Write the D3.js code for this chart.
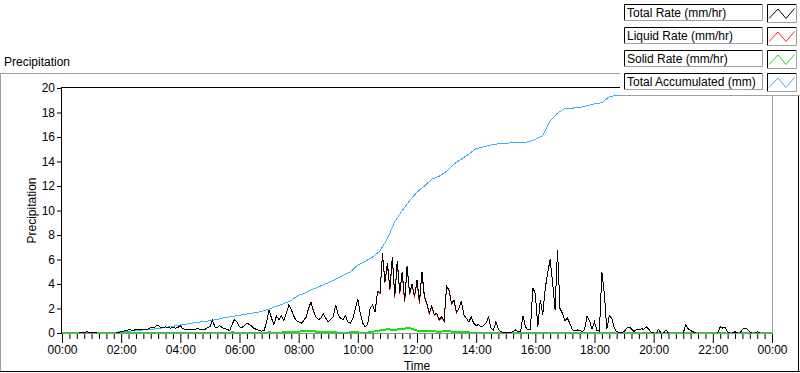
<!DOCTYPE html>
<html><head><meta charset="utf-8">
<script src="https://cdn.jsdelivr.net/npm/d3@7"></script>
<style>body{margin:0;background:#fff;} svg{display:block;font-family:"Liberation Sans",Arial,sans-serif;}</style>
</head><body><svg id="c" width="800" height="373"></svg>
<script>
// ---------------- data ----------------
const seriesNames = ["Total Rate (mm/hr)", "Liquid Rate (mm/hr)", "Solid Rate (mm/hr)", "Total Accumulated (mm)"];
const seriesColors = ["#000000", "#ff2020", "#11e011", "#36b4f2"];
const chartTitle = "Precipitation";
const xAxisTitle = "Time";
const yAxisTitle = "Precipitation";
const xTickHours = [0, 2, 4, 6, 8, 10, 12, 14, 16, 18, 20, 22, 24];
const xTickLabels = ["00:00","02:00","04:00","06:00","08:00","10:00","12:00","14:00","16:00","18:00","20:00","22:00","00:00"];
const yTickValues = [0, 2, 4, 6, 8, 10, 12, 14, 16, 18, 20];

// rates sampled every 5 minutes from 00:00 to 24:00
const rateStepMinutes = 5;
const totalRate = [
 0,0,0,0,0,0,0,0,0.05,0.05,0.1,0.05,
 0.05,0.05,0,0,0,0,0,0,0,0,0,0.05,
 0.1,0.15,0.2,0.25,0.25,0.2,0.3,0.25,0.3,0.3,0.25,0.35,
 0.45,0.4,0.55,0.65,0.45,0.4,0.5,0.45,0.4,0.5,0.4,0.45,
 0.6,0.35,0.3,0.3,0.25,0.3,0.3,0.35,0.3,0.25,0.3,0.45,
 0.5,1.05,0.5,0.45,0.6,0.45,0.35,0.3,0.2,0.7,1.1,0.9,
 0.5,0.45,0.6,0.8,0.7,0.55,0.35,0.3,0.2,0.15,0.2,0.9,
 1.9,1.2,0.7,1.4,1.1,1.4,1.0,1.6,2.3,1.9,1.4,1.0,
 0.9,0.8,1.0,1.3,2.0,2.55,1.8,1.3,1.1,1.2,1.6,1.2,
 0.9,1.1,1.3,2.3,1.5,1.2,1.1,1.4,0.9,0.8,1.2,2.0,
 2.75,1.6,0.8,0.5,0.7,2.0,2.3,1.7,3.4,3.3,6.5,4.2,
 5.7,3.6,6.2,3.0,5.9,3.3,5.0,2.6,5.5,3.2,4.0,3.0,
 4.3,2.5,5.0,3.0,2.4,1.6,2.2,1.5,1.6,1.1,1.3,1.0,
 3.8,3.5,2.4,2.7,1.7,2.0,2.6,1.5,1.2,0.9,1.3,0.8,
 0.6,0.7,0.5,0.6,0.8,1.3,0.4,0.25,0.9,0.3,0.1,0.05,
 0.05,0.05,0.05,0.1,0.25,0.1,0.1,1.4,0.5,0.25,0.3,3.7,
 3.2,0.5,2.7,1.5,3.6,4.9,6.0,4.1,1.9,6.8,2.0,1.6,
 1.0,1.2,0.8,0.25,0.2,0.25,0.2,0.1,0.3,1.4,1.0,0.3,
 0.9,0.2,0.15,5.0,3.2,0.3,1.4,1.2,0.4,0.1,0.05,0.05,
 0.1,0.4,0.5,0.35,0.1,0.3,0.25,0.35,0.3,0.5,0.3,0.05,
 0,0,0.3,0,0,0.25,0,0,0,0,0,0,
 0,0.65,0.35,0.2,0.1,0,0,0,0,0,0,0,
 0,0,0,0.5,0.4,0.45,0.1,0,0,0.1,0,0,
 0.3,0.4,0.3,0.1,0,0,0.1,0,0,0,0,0,
 0
];
const liquidRate = [
 0,0,0,0,0,0,0,0,0.05,0.05,0.1,0.05,
 0.05,0.05,0,0,0,0,0,0,0,0,0,0.05,
 0.1,0.15,0.2,0.25,0.25,0.2,0.3,0.25,0.3,0.3,0.25,0.35,
 0.45,0.4,0.55,0.65,0.45,0.4,0.5,0.45,0.4,0.5,0.4,0.45,
 0.6,0.35,0.3,0.3,0.25,0.3,0.3,0.35,0.3,0.25,0.3,0.45,
 0.5,1.05,0.5,0.45,0.6,0.45,0.35,0.3,0.2,0.7,1.1,0.9,
 0.5,0.45,0.6,0.8,0.7,0.55,0.35,0.3,0.2,0.15,0.2,0.9,
 1.9,1.2,0.7,1.4,1.1,1.4,1.0,1.6,2.3,1.9,1.4,1.0,
 0.9,0.8,1.0,1.25,1.95,2.5,1.75,1.3,1.1,1.2,1.6,1.2,
 0.9,1.1,1.3,2.3,1.5,1.2,1.1,1.4,0.9,0.8,1.2,2.0,
 2.75,1.6,0.8,0.5,0.7,2.0,2.3,1.7,3.35,3.2,6.4,4.1,
 5.6,3.5,6.1,2.9,5.8,3.2,4.9,2.5,5.4,3.1,3.9,2.9,
 4.2,2.4,4.9,2.9,2.35,1.55,2.15,1.45,1.55,1.05,1.25,0.95,
 3.75,3.45,2.35,2.65,1.65,2.0,2.6,1.5,1.2,0.9,1.3,0.8,
 0.6,0.7,0.5,0.6,0.8,1.3,0.4,0.25,0.9,0.3,0.1,0.05,
 0.05,0.05,0.05,0.1,0.25,0.1,0.1,1.4,0.5,0.25,0.3,3.7,
 3.2,0.5,2.7,1.5,3.6,4.9,6.0,4.1,1.9,6.8,2.0,1.6,
 1.0,1.2,0.8,0.25,0.2,0.25,0.2,0.1,0.3,1.4,1.0,0.3,
 0.9,0.2,0.15,5.0,3.2,0.3,1.4,1.2,0.4,0.1,0.05,0.05,
 0.1,0.4,0.5,0.35,0.1,0.3,0.25,0.35,0.3,0.5,0.3,0.05,
 0,0,0.3,0,0,0.25,0,0,0,0,0,0,
 0,0.65,0.35,0.2,0.1,0,0,0,0,0,0,0,
 0,0,0,0.5,0.4,0.45,0.1,0,0,0.1,0,0,
 0.3,0.4,0.3,0.1,0,0,0.1,0,0,0,0,0,
 0
];
// solid rate and accumulation sampled every 15 minutes
const slowStepMinutes = 15;
const solidRate = [
 0,0,0,0, 0,0,0,0, 0,0,0,0, 0,0,0,0, 0,0,0,0,
 0,0,0,0.05, 0,0,0,0, 0.05,0,0.05,0.05, 0.1,0.2,0.15,0.05, 0.05,0.05,0,0.05,
 0.05,0,0.1,0.2, 0.3,0.25,0.35,0.4, 0.2,0.15,0.15,0.1, 0.15,0.1,0.05,0.05, 0,0,0,0,
 0,0,0,0, 0,0,0,0, 0,0,0,0, 0,0,0,0, 0,0,0,0,
 0,0,0,0, 0,0,0,0, 0,0,0,0, 0,0,0,0,
 0
];
const totalAccum = [
 0,0,0,0, 0,0,0.02,0.05, 0.1,0.14,0.2,0.25, 0.3,0.36,0.45,0.55,
 0.65,0.75,0.85,0.92, 1.0,1.12,1.25,1.35, 1.45,1.55,1.65,1.75, 1.95,2.2,2.4,2.65,
 3.1,3.3,3.6,3.85, 4.1,4.4,4.7,5.0, 5.55,5.85,6.2,6.7, 7.7,9.1,10.0,10.8,
 11.5,12.0,12.55,12.8, 13.2,13.8,14.2,14.6, 15.05,15.2,15.35,15.45, 15.5,15.52,15.53,15.6,
 15.8,16.1,17.3,17.95, 18.34,18.36,18.4,18.55, 18.7,18.8,19.3,19.4, 19.45,19.5,19.55,19.6,
 19.62,19.64,19.66,19.68, 19.7,19.74,19.76,19.78, 19.8,19.82,19.84,19.85, 19.87,19.88,19.88,19.89,
 19.9
];

// ---------------- drawing ----------------
const svg = d3.select("#c");
const L = 62, R = 772, T = 88, B = 333;
const x = d3.scaleLinear().domain([0, 24]).range([L, R]);
const y = d3.scaleLinear().domain([0, 20]).range([B, T]);

// outer frame
svg.append("line").attr("x1",0).attr("x2",620).attr("y1",73.5).attr("y2",73.5).attr("stroke","#a0a0a0");
svg.append("line").attr("x1",0.5).attr("x2",0.5).attr("y1",73).attr("y2",372).attr("stroke","#a0a0a0");
svg.append("line").attr("x1",0).attr("x2",800).attr("y1",371.5).attr("y2",371.5).attr("stroke","#000");
svg.append("line").attr("x1",798.5).attr("x2",798.5).attr("y1",95).attr("y2",372).attr("stroke","#000");

svg.append("text").attr("x",4).attr("y",66).attr("font-size",12).attr("fill","#000").text(chartTitle);

// plot area
svg.append("rect").attr("x",L).attr("y",T).attr("width",R-L).attr("height",B-T).attr("fill","#fff");
svg.append("defs").append("clipPath").attr("id","clip").append("rect")
  .attr("x",L).attr("y",T-1).attr("width",R-L).attr("height",B-T+3);

const plot = svg.append("g").attr("clip-path","url(#clip)");
const mk = (arr, step) => arr.map((v,i)=>({t:i*step/60, v}));
const line = d3.line().x(d=>x(d.t)).y(d=>y(d.v));

plot.append("path").datum(mk(totalAccum, slowStepMinutes)).attr("d",line)
  .attr("fill","none").attr("stroke",seriesColors[3]).attr("stroke-width",1).attr("shape-rendering","crispEdges");
plot.append("path").datum(mk(solidRate, slowStepMinutes)).attr("d",line)
  .attr("fill","none").attr("stroke",seriesColors[2]).attr("stroke-width",2).attr("shape-rendering","crispEdges");
plot.append("path").datum(mk(liquidRate, rateStepMinutes)).attr("d",line)
  .attr("fill","none").attr("stroke",seriesColors[1]).attr("stroke-width",1).attr("shape-rendering","crispEdges");
plot.append("path").datum(mk(totalRate, rateStepMinutes)).attr("d",line)
  .attr("fill","none").attr("stroke",seriesColors[0]).attr("stroke-width",1).attr("shape-rendering","crispEdges");

// borders
svg.append("line").attr("x1",L-0.5).attr("x2",R).attr("y1",T-0.5).attr("y2",T-0.5).attr("stroke","#000");
svg.append("line").attr("x1",L-0.5).attr("x2",L-0.5).attr("y1",T-1).attr("y2",B+1).attr("stroke","#000");
svg.append("line").attr("x1",R+0.5).attr("x2",R+0.5).attr("y1",95).attr("y2",B+1).attr("stroke","#a0a0a0");
svg.append("line").attr("x1",L).attr("x2",R+1).attr("y1",B+0.5).attr("y2",B+0.5).attr("stroke","#909090");

// y axis
const yAx = svg.append("g").attr("transform",`translate(${L-1},0)`)
  .call(d3.axisLeft(y).tickValues(yTickValues).tickSize(4).tickPadding(2).tickFormat(d3.format("d")));
yAx.select(".domain").remove();
yAx.selectAll("line").attr("stroke","#000");
yAx.selectAll("text").attr("font-size",12).attr("font-family","Liberation Sans, Arial, sans-serif").attr("fill","#000");

// x axis minor
const minor = d3.range(0, 24.01, 0.25).filter(h => Math.abs(h/2 - Math.round(h/2)) > 1e-6);
const xMin = svg.append("g").attr("transform",`translate(0,${B+1})`)
  .call(d3.axisBottom(x).tickValues(minor).tickSize(5).tickFormat(""));
xMin.select(".domain").remove();
xMin.selectAll("line").attr("stroke","#000");
const xMaj = svg.append("g").attr("transform",`translate(0,${B+1})`)
  .call(d3.axisBottom(x).tickValues(xTickHours).tickSize(9).tickPadding(2)
    .tickFormat((d,i)=>xTickLabels[i]));
xMaj.select(".domain").remove();
xMaj.selectAll("line").attr("stroke","#000");
xMaj.selectAll("text").attr("font-size",12).attr("font-family","Liberation Sans, Arial, sans-serif").attr("fill","#000");

svg.append("text").attr("x",(L+R)/2).attr("y",370).attr("text-anchor","middle").attr("font-size",12).text(xAxisTitle);
svg.append("text").attr("transform",`translate(36,${(T+B)/2}) rotate(-90)`).attr("text-anchor","middle").attr("font-size",12).text(yAxisTitle);

// legend
const lg = svg.append("g");
lg.append("rect").attr("x",620).attr("y",0).attr("width",180).attr("height",95).attr("fill","#fff");
lg.append("line").attr("x1",620).attr("x2",800).attr("y1",95.5).attr("y2",95.5).attr("stroke","#a0a0a0");
function sunken(g, x0, y0, w, h){
  g.append("rect").attr("x",x0).attr("y",y0).attr("width",w).attr("height",h).attr("fill","#fff");
  g.append("path").attr("d",`M${x0+0.5},${y0+h}V${y0+0.5}H${x0+w}`).attr("fill","none").attr("stroke","#000");
  g.append("path").attr("d",`M${x0+w-0.5},${y0}V${y0+h-0.5}H${x0}`).attr("fill","none").attr("stroke","#a0a0a0");
}
seriesNames.forEach((name,i)=>{
  const top = 4 + 23*i;
  sunken(lg, 624, top, 139, 17);
  lg.append("text").attr("x",627).attr("y",top+13).attr("font-size",12).attr("fill","#000").text(name);
  sunken(lg, 767, top, 30, 19);
  lg.append("path").attr("d",`M769,${top+14.5}L778,${top+5}L786,${top+14.5}L794.5,${top+4.5}`)
    .attr("fill","none").attr("stroke",seriesColors[i]).attr("stroke-width",1);
});
</script></body></html>
